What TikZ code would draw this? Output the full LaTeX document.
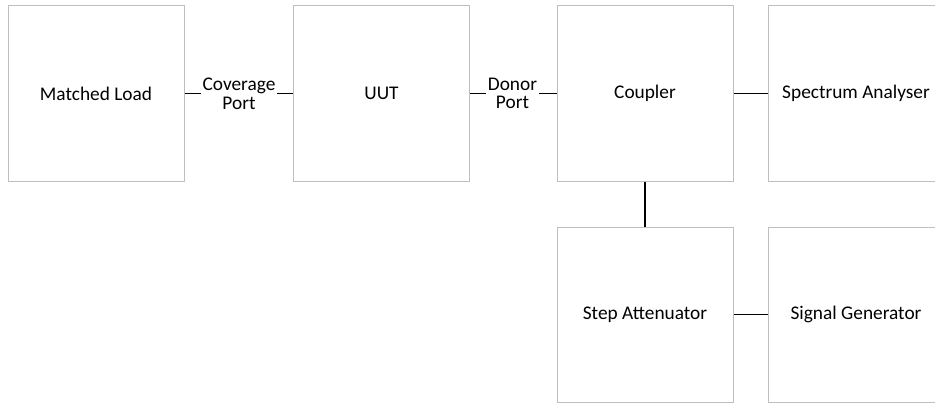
\documentclass[tikz,border=0pt]{standalone}
\usepackage{fontspec}
\setmainfont{Carlito}
\tikzset{every picture/.style={line width=0.75pt}}
\tikzset{
  unitbox/.style={draw={rgb, 255:red, 191; green, 191; blue, 191}, line width=0.75pt, minimum width=132pt, minimum height=131.25pt, inner sep=0pt, font=\fontsize{14.5}{14}\selectfont},
  portlbl/.style={align=center, inner sep=1.2pt, font=\fontsize{14.5}{14}\selectfont},
  wire/.style={draw=black, line width=1.1pt}
}

\begin{document}
\begin{tikzpicture}[x=0.75pt,y=0.75pt,yscale=-1,xscale=1]
\useasboundingbox (0,0) rectangle (935,403);

%Shape: Rectangle [Matched Load]
\node [unitbox] (load) at (96,93.5) {Matched Load};
%Shape: Rectangle [UUT]
\node [unitbox] (uut) at (381.5,93.5) {UUT};
%Shape: Rectangle [Coupler]
\node [unitbox] (coupler) at (645,93.5) {Coupler};
%Shape: Rectangle [Spectrum Analyser]
\node [unitbox] (analyser) at (856,93.5) {Spectrum Analyser};
%Shape: Rectangle [Step Attenuator]
\node [unitbox] (atten) at (645,314.5) {Step Attenuator};
%Shape: Rectangle [Signal Generator]
\node [unitbox] (siggen) at (856,314.5) {Signal Generator};

% Text Node
\node [portlbl] (covport) at (239,93.5) {Coverage\\Port};
% Text Node
\node [portlbl] (donport) at (512.5,93.5) {Donor\\Port};

%Straight Lines
\draw [wire] (load) -- (covport) -- (uut);
\draw [wire] (uut) -- (donport) -- (coupler);
\draw [wire] (coupler) -- (analyser);
\draw [wire] (coupler) -- (atten);
\draw [wire] (atten) -- (siggen);

\end{tikzpicture}
\end{document}
